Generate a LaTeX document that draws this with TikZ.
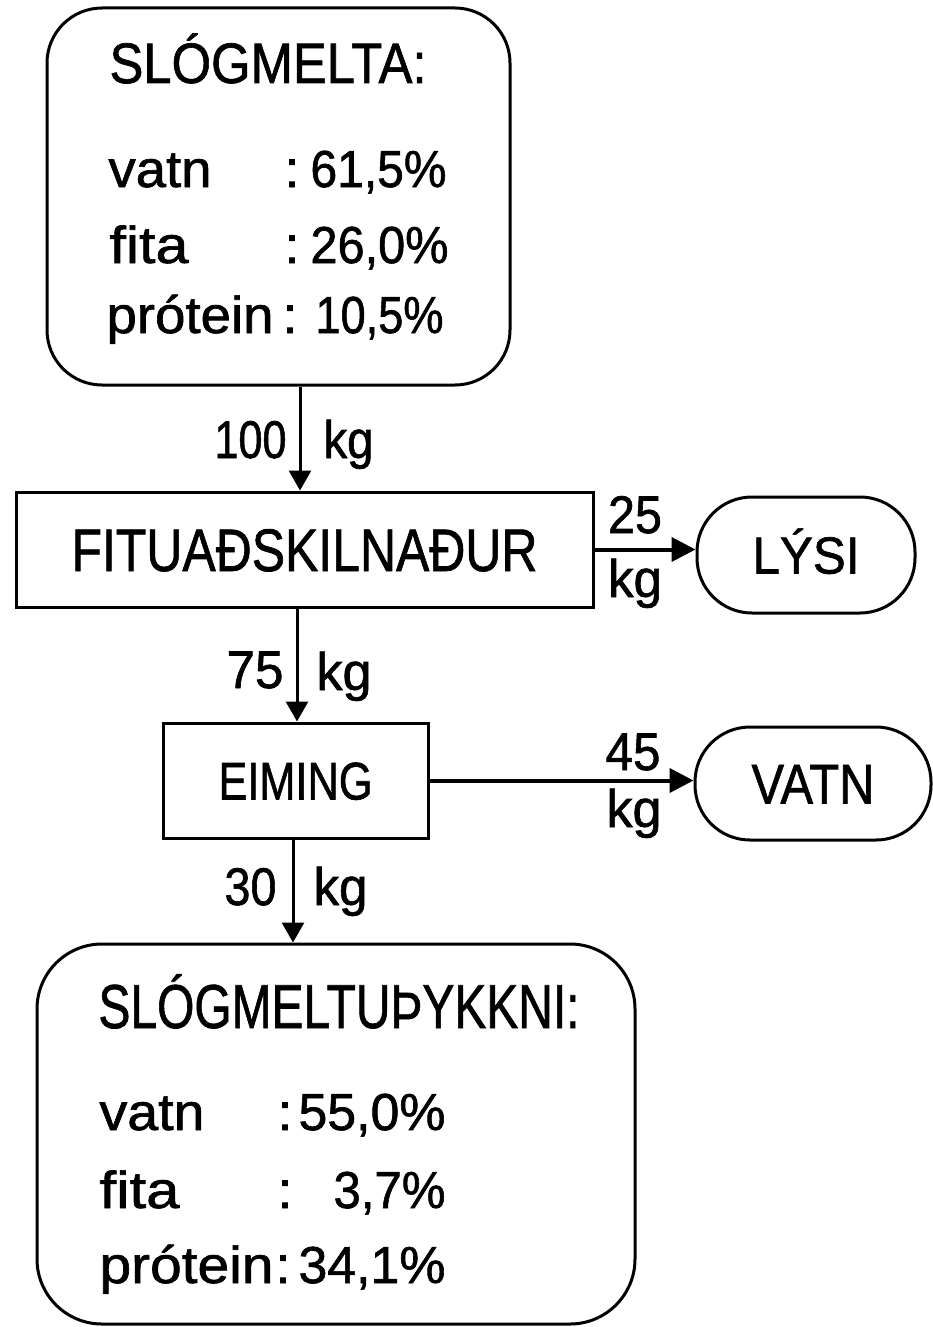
\documentclass[tikz,border=0pt]{standalone}
\usepackage{fontspec}
\setmainfont{Liberation Sans}[UprightFeatures={FakeBold=1.2}]
\usepackage{graphicx}
\usetikzlibrary{arrows.meta,calc}
\newcommand{\tw}[2]{\resizebox{#1pt}{\height}{#2}}
\newcommand{\fsz}[1]{\fontsize{#1}{#1}\selectfont}
\begin{document}
\begin{tikzpicture}[x=1pt,y=-1pt,
  line width=3pt,
  roundbox/.style={draw, line width=3pt, inner sep=0pt},
  procbox/.style={draw, line width=3pt, inner sep=0pt, text depth=0pt},
  stadium/.style={draw, line width=3pt, inner sep=0pt, rounded corners=55pt, text depth=0pt},
  rowtxt/.style={inner sep=0pt, font=\fsz{52}},
  lbl/.style={inner sep=0pt, font=\fsz{53}},
  arr/.style={-{Triangle[length=20pt,width=22pt]}, line width=3pt},
  sarr/.style={-{Triangle[length=24pt,width=24pt]}, line width=4pt}
]
\useasboundingbox (0,0) rectangle (933,1327);

% boxes
\node[roundbox, minimum width=463pt, minimum height=377pt, rounded corners=55pt] (src) at (278.5,196.5) {};
\node[procbox, minimum width=577pt, minimum height=115pt, text height=43pt, font=\fsz{60}] (fit) at (304.5,549.5) {\tw{466}{FITUAÐSKILNAÐUR}};
\node[procbox, minimum width=265pt, minimum height=115pt, text height=38pt, font=\fsz{53}] (eim) at (295.5,780.5) {\tw{154}{EIMING}};
\node[stadium, minimum width=218pt, minimum height=116pt, text height=37pt, font=\fsz{52}] (lysi) at (806,555) {\tw{107}{LÝSI}};
\node[stadium, minimum width=236pt, minimum height=113pt, text height=40pt, font=\fsz{56}] (vatn) at (813,783.5) {\tw{123}{VATN}};
\node[roundbox, minimum width=598pt, minimum height=380pt, rounded corners=65pt] (prod) at (336,1134) {};

% top box text
\node[inner sep=0pt, anchor=base west, font=\fsz{57}] (t1) at (108,83) {\tw{317}{SLÓGMELTA:}};
\node[rowtxt, anchor=base west] (r1a) at (107,187) {\tw{103}{vatn}};
\node[rowtxt, anchor=base] (r1c) at (292,187) {:};
\node[rowtxt, anchor=base east] (r1v) at (448,187) {\tw{136}{61,5\%}};
\node[rowtxt, anchor=base west] (r2a) at (108,263) {\tw{79}{fita}};
\node[rowtxt, anchor=base] (r2c) at (292,263) {:};
\node[rowtxt, anchor=base east] (r2v) at (450,263) {\tw{138}{26,0\%}};
\node[rowtxt, anchor=base west] (r3a) at (105,333) {\tw{167}{prótein}};
\node[rowtxt, anchor=base] (r3c) at (290,333) {:};
\node[rowtxt, anchor=base east] (r3v) at (445,333) {\tw{128}{10,5\%}};

% bottom box text
\node[inner sep=0pt, anchor=base west, font=\fsz{62}] (t2) at (97,1028) {\tw{481}{SLÓGMELTUÞYKKNI:}};
\node[rowtxt, anchor=base west] (s1a) at (98,1130) {\tw{105}{vatn}};
\node[rowtxt, anchor=base] (s1c) at (285,1130) {:};
\node[rowtxt, anchor=base east] (s1v) at (447,1130) {\tw{147}{55,0\%}};
\node[rowtxt, anchor=base west] (s2a) at (98,1208) {\tw{80}{fita}};
\node[rowtxt, anchor=base] (s2c) at (285,1208) {:};
\node[rowtxt, anchor=base east] (s2v) at (447,1208) {\tw{112}{3,7\%}};
\node[rowtxt, anchor=base west] (s3a) at (98,1283) {\tw{174}{prótein}};
\node[rowtxt, anchor=base] (s3c) at (283,1283) {:};
\node[rowtxt, anchor=base east] (s3v) at (447,1283) {\tw{147}{34,1\%}};

% connectors
\coordinate (x1) at (300,0);
\coordinate (x2) at (297,0);
\coordinate (x3) at (293,0);
\draw[arr] (x1 |- src.south) -- (x1 |- fit.north);
\draw[arr] (x2 |- fit.south) -- (x2 |- eim.north);
\draw[arr] (x3 |- eim.south) -- (x3 |- prod.north);
\draw[sarr] (fit.east) -- (fit.east -| lysi.west);
\draw[sarr] (eim.east) -- (eim.east -| vatn.west);

% flow labels
\node[lbl, anchor=base east] (l100) at (288,458) {\tw{72}{100}};
\node[lbl, anchor=base west] (k100) at (322,458) {\tw{50}{kg}};
\node[lbl, anchor=base east] (l75) at (285,688) {\tw{57}{75}};
\node[lbl, anchor=base west] (k75) at (315,690) {\tw{55}{kg}};
\node[lbl, anchor=base east] (l30) at (278,905) {\tw{52}{30}};
\node[lbl, anchor=base west] (k30) at (312,905) {\tw{54}{kg}};
\node[lbl, anchor=base] (l25) at (635,533) {\tw{54}{25}};
\node[lbl, anchor=base] (k25) at (635,597) {\tw{54}{kg}};
\node[lbl, anchor=base] (l45) at (633,770) {\tw{55}{45}};
\node[lbl, anchor=base] (k45) at (634,827) {\tw{55}{kg}};
\end{tikzpicture}
\end{document}
